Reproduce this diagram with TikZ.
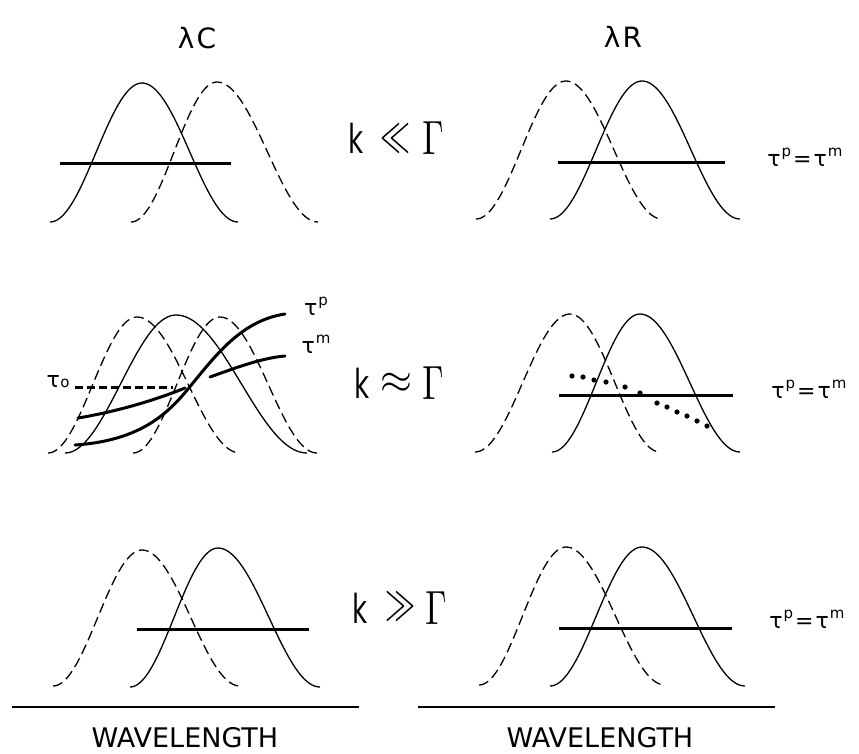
\documentclass[tikz,border=0pt]{standalone}
\usepackage[no-math]{fontspec}
\setmainfont{DejaVu Sans}
\usepackage{graphicx}
\newcommand{\bellc}[6][]{%
  \draw[#1] plot[domain=0:1,samples=40] ({#2+(#3-#2)*\x},{#5-(#5-#6)*(1-cos(180*\x))/2})
    -- plot[domain=0:1,samples=40] ({#3+(#4-#3)*\x},{#5-(#5-#6)*(1+cos(180*\x))/2});}
\newcommand{\bigrel}[1]{\scalebox{3}[4.8]{$#1$}}
\newcommand{\bigG}{\scalebox{3.4}[4.8]{$\Gamma$}}
\newcommand{\tsup}[1]{\raisebox{0.45em}{\fontsize{15}{15}\selectfont #1}}
\newcommand{\teq}{τ\kern1pt\tsup{p}\kern2pt=\kern2ptτ\kern1pt\tsup{m}}
\tikzset{
  thinc/.style={line width=1.3pt},
  dsh/.style={line width=1.3pt, dash pattern=on 10pt off 5pt},
  bar/.style={line width=3pt},
  tcurve/.style={line width=3pt, line cap=round},
  lbl/.style={inner sep=0pt, outer sep=0pt},
  head/.style={lbl, font=\fontsize{28}{28}\selectfont},
  wl/.style={lbl, font=\fontsize{27}{27}\selectfont},
  tl/.style={lbl, font=\fontsize{22}{22}\selectfont},
  kk/.style={lbl, font=\fontsize{40}{40}\selectfont},
}
\begin{document}
\begin{tikzpicture}[x=1pt,y=-1pt]
\useasboundingbox (0,0) rectangle (859,753);

% headers
\node[head] (lc) at (197,38) {λ\kern2pt C};
\node[head] (lr) at (623,37) {λ\kern2pt R};

% ---------- row 1 ----------
\bellc[thinc]{50}{142}{238}{222}{83}
\bellc[dsh]{131}{217}{318}{222}{82}
\coordinate (a1) at (60,163); \coordinate (b1) at (231,163);
\draw[bar] (a1) -- (b1);
\bellc[dsh]{476}{566}{662}{219}{81}
\bellc[thinc]{550}{642}{740}{219}{81}
\coordinate (c1) at (558,162); \coordinate (d1) at (725,162);
\draw[bar] (c1) -- (d1);
\node[tl] (t1) at (805,157) {\teq};
\node[kk] (k1) at (356,138) {\scalebox{0.65}[1]{k}};
\node[lbl] (r1) at (395,138) {\bigrel{\ll}};
\node[lbl] (g1) at (433,138) {\bigG};

% ---------- row 2 ----------
\bellc[dsh]{48}{137}{240}{453}{317}
\bellc[thinc]{65}{176}{307}{453}{315}
\bellc[dsh]{133}{220}{317}{453}{317}
\coordinate (z0) at (75,387); \coordinate (z1) at (173,387);
\draw[line width=3pt, dash pattern=on 8pt off 4pt] (z0) -- (z1);
\coordinate (m0) at (78,418); \coordinate (m1) at (185,388);
\coordinate (m2) at (210,377); \coordinate (m3) at (285,356);
\draw[tcurve] (m0) .. controls (120,411) and (158,399) .. (m1);
\draw[tcurve] (m2) .. controls (238,367) and (262,358) .. (m3);
\coordinate (p0) at (75,445); \coordinate (pc) at (197,378); \coordinate (p1) at (285,314);
\draw[tcurve] (p0) .. controls (150,440) and (175,405) .. (pc)
  .. controls (220,350) and (245,320) .. (p1);
\node[tl] (t0) at (58,382) {τ\kern0.5pt{\fontsize{15}{15}\selectfont o}};
\node[tl] (tp) at (316,306) {τ\kern1pt\tsup{p}};
\node[tl] (tm) at (316,344) {τ\kern1pt\tsup{m}};

\bellc[dsh]{475}{570}{660}{452}{314}
\bellc[thinc]{552}{640}{740}{452}{314}
\coordinate (c2) at (559,395); \coordinate (d2) at (733,395);
\draw[bar] (c2) -- (d2);
\foreach \px/\py in {572/376,583/377,594/380,606/382,625/387,640/393,657/403,667/407,677/412,687/416,697/421,707/426}
  \fill (\px,\py) circle (2.6pt);
\node[tl] (t2) at (809,389) {\teq};
\node[kk] (k2) at (362,383) {\scalebox{0.65}[1]{k}};
\node[lbl] (r2) at (396,383) {\scalebox{4.1}[4.2]{$\approx$}};
\node[lbl] (g2) at (433,383) {\bigG};

% ---------- row 3 ----------
\bellc[dsh]{53}{142}{240}{686}{550}
\bellc[thinc]{130}{218}{320}{687}{548}
\coordinate (a3) at (137,629); \coordinate (b3) at (309,629);
\draw[bar] (a3) -- (b3);
\bellc[dsh]{479}{566}{665}{685}{547}
\bellc[thinc]{550}{642}{745}{686}{547}
\coordinate (c3) at (559,628); \coordinate (d3) at (732,628);
\draw[bar] (c3) -- (d3);
\node[tl] (t3) at (807,619) {\teq};
\node[kk] (k3) at (360,608) {\scalebox{0.65}[1]{k}};
\node[lbl] (r3) at (400,606) {\bigrel{\gg}};
\node[lbl] (g3) at (436,608) {\bigG};

% axes
\coordinate (x0) at (12,707); \coordinate (x1) at (359,707);
\coordinate (x2) at (418,707); \coordinate (x3) at (775,707);
\draw[line width=2.5pt] (x0) -- (x1);
\draw[line width=2.5pt] (x2) -- (x3);
\node[wl] (w1) at (185,738) {WAVELENGTH};
\node[wl] (w2) at (600,738) {WAVELENGTH};
\end{tikzpicture}
\end{document}
